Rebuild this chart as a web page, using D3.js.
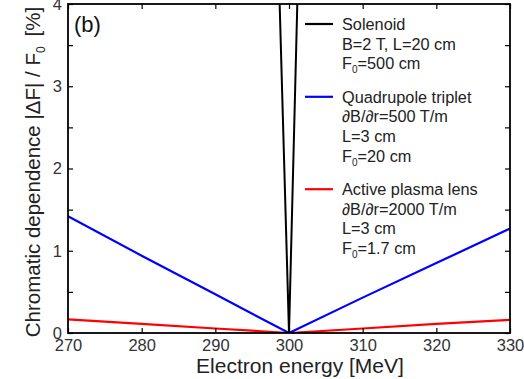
<!DOCTYPE html>
<html lang="en">
<head>
<meta charset="UTF-8">
<title>Chromatic dependence</title>
<script src="https://d3js.org/d3.v7.min.js"></script>
<style>
  body { margin: 0; background: #fff; }
  svg { display: block; font-family: "Liberation Sans", Arial, sans-serif; }
</style>
</head>
<body>
<svg id="chart" width="524" height="379"></svg>
<script>
// data
const energy = [270, 280, 290, 300, 310, 320, 330];
const quadrupole = [1.42, 0.94, 0.47, 0, 0.43, 0.85, 1.27];
const plasmaLens = [0.165, 0.11, 0.055, 0, 0.055, 0.11, 0.16];
const solenoidEnergy = [298, 300, 302];
const solenoid = [6.3, 0, 7.1];

const xTicks = [270, 280, 290, 300, 310, 320, 330];
const yTicks = [0, 0.5, 1, 1.5, 2, 2.5, 3, 3.5, 4];

const legendItems = [
  { color: "#000", lines: ["Solenoid", "B=2 T, L=20 cm", "F0=500 cm"] },
  { color: "#0000ff", lines: ["Quadrupole triplet", "\u2202B/\u2202r=500 T/m", "L=3 cm", "F0=20 cm"] },
  { color: "#ff0000", lines: ["Active plasma lens", "\u2202B/\u2202r=2000 T/m", "L=3 cm", "F0=1.7 cm"] }
];

const svg = d3.select("#chart");
const m = { left: 68, right: 14, top: 4, bottom: 46 };
const W = 524, H = 379;

const x = d3.scaleLinear().domain([270, 330]).range([m.left, W - m.right]);
const y = d3.scaleLinear().domain([0, 4]).range([H - m.bottom, m.top]);

svg.append("clipPath").attr("id", "clip")
  .append("rect")
  .attr("x", m.left).attr("y", m.top)
  .attr("width", W - m.left - m.right).attr("height", H - m.top - m.bottom);

const line = d3.line().x(d => x(d[0])).y(d => y(d[1]));
const plot = svg.append("g").attr("clip-path", "url(#clip)");

plot.append("path").datum(energy.map((e, i) => [e, plasmaLens[i]]))
  .attr("d", line).attr("fill", "none").attr("stroke", "#ff0000").attr("stroke-width", 2.2);
plot.append("path").datum(energy.map((e, i) => [e, quadrupole[i]]))
  .attr("d", line).attr("fill", "none").attr("stroke", "#0000ff").attr("stroke-width", 2.2);
plot.append("path").datum(solenoidEnergy.map((e, i) => [e, solenoid[i]]))
  .attr("d", line).attr("fill", "none").attr("stroke", "#000").attr("stroke-width", 2);

// axes with inward ticks on all sides (MATLAB style)
const tickLen = 5;
function styleAxis(g) {
  g.select(".domain").remove();
  g.selectAll(".tick line").attr("stroke", "#000").attr("stroke-width", 1.2);
  g.selectAll(".tick text").attr("fill", "#333").style("font-size", "16.5px");
}
svg.append("g").attr("transform", `translate(0,${y(0)})`)
  .call(d3.axisBottom(x).tickValues(xTicks).tickSizeInner(-tickLen).tickSizeOuter(0).tickPadding(6))
  .call(styleAxis);
svg.append("g").attr("transform", `translate(0,${y(4)})`)
  .call(d3.axisTop(x).tickValues(xTicks).tickSizeInner(-tickLen).tickSizeOuter(0).tickFormat(""))
  .call(styleAxis);
svg.append("g").attr("transform", `translate(${x(270)},0)`)
  .call(d3.axisLeft(y).tickValues(yTicks).tickSizeInner(-tickLen).tickSizeOuter(0).tickPadding(6)
    .tickFormat(d => Number.isInteger(d) ? d : ""))
  .call(styleAxis);
svg.append("g").attr("transform", `translate(${x(330)},0)`)
  .call(d3.axisRight(y).tickValues(yTicks).tickSizeInner(-tickLen).tickSizeOuter(0).tickFormat(""))
  .call(styleAxis);

// frame
svg.append("rect")
  .attr("x", x(270)).attr("y", y(4))
  .attr("width", x(330) - x(270)).attr("height", y(0) - y(4))
  .attr("fill", "none").attr("stroke", "#000").attr("stroke-width", 1.8);

// panel label
svg.append("text").attr("x", 74).attr("y", 32).attr("fill", "#111")
  .style("font-size", "22px").text("(b)");

// legend
const legend = svg.append("g").attr("transform", "translate(305,24)");
let yy = 0;
legendItems.forEach(item => {
  legend.append("line").attr("x1", 0).attr("x2", 28).attr("y1", yy).attr("y2", yy)
    .attr("stroke", item.color).attr("stroke-width", 2.2);
  item.lines.forEach((t, j) => {
    const txt = legend.append("text").attr("x", 37).attr("y", yy + j * 19.6 + 6)
      .attr("fill", "#222").style("font-size", "16.3px");
    if (t.startsWith("F0")) {
      txt.append("tspan").text("F");
      txt.append("tspan").attr("dy", 4).style("font-size", "10px").text("0");
      txt.append("tspan").attr("dy", -4).text(t.slice(2));
    } else {
      txt.text(t);
    }
  });
  yy += item.lines.length * 19.6 + 14;
});

// axis titles
svg.append("text").attr("x", 300).attr("y", 373)
  .attr("text-anchor", "middle").attr("fill", "#222").style("font-size", "21px")
  .text("Electron energy [MeV]");

const yt = svg.append("text").attr("transform", `translate(40,172) rotate(-90)`)
  .attr("text-anchor", "middle").attr("fill", "#222").style("font-size", "20.5px");
yt.append("tspan").text("Chromatic dependence |\u0394F| / F");
yt.append("tspan").attr("dy", 5).style("font-size", "12px").text("0");
yt.append("tspan").attr("dy", -5).attr("dx", 10).text("[%]");
</script>
</body>
</html>
